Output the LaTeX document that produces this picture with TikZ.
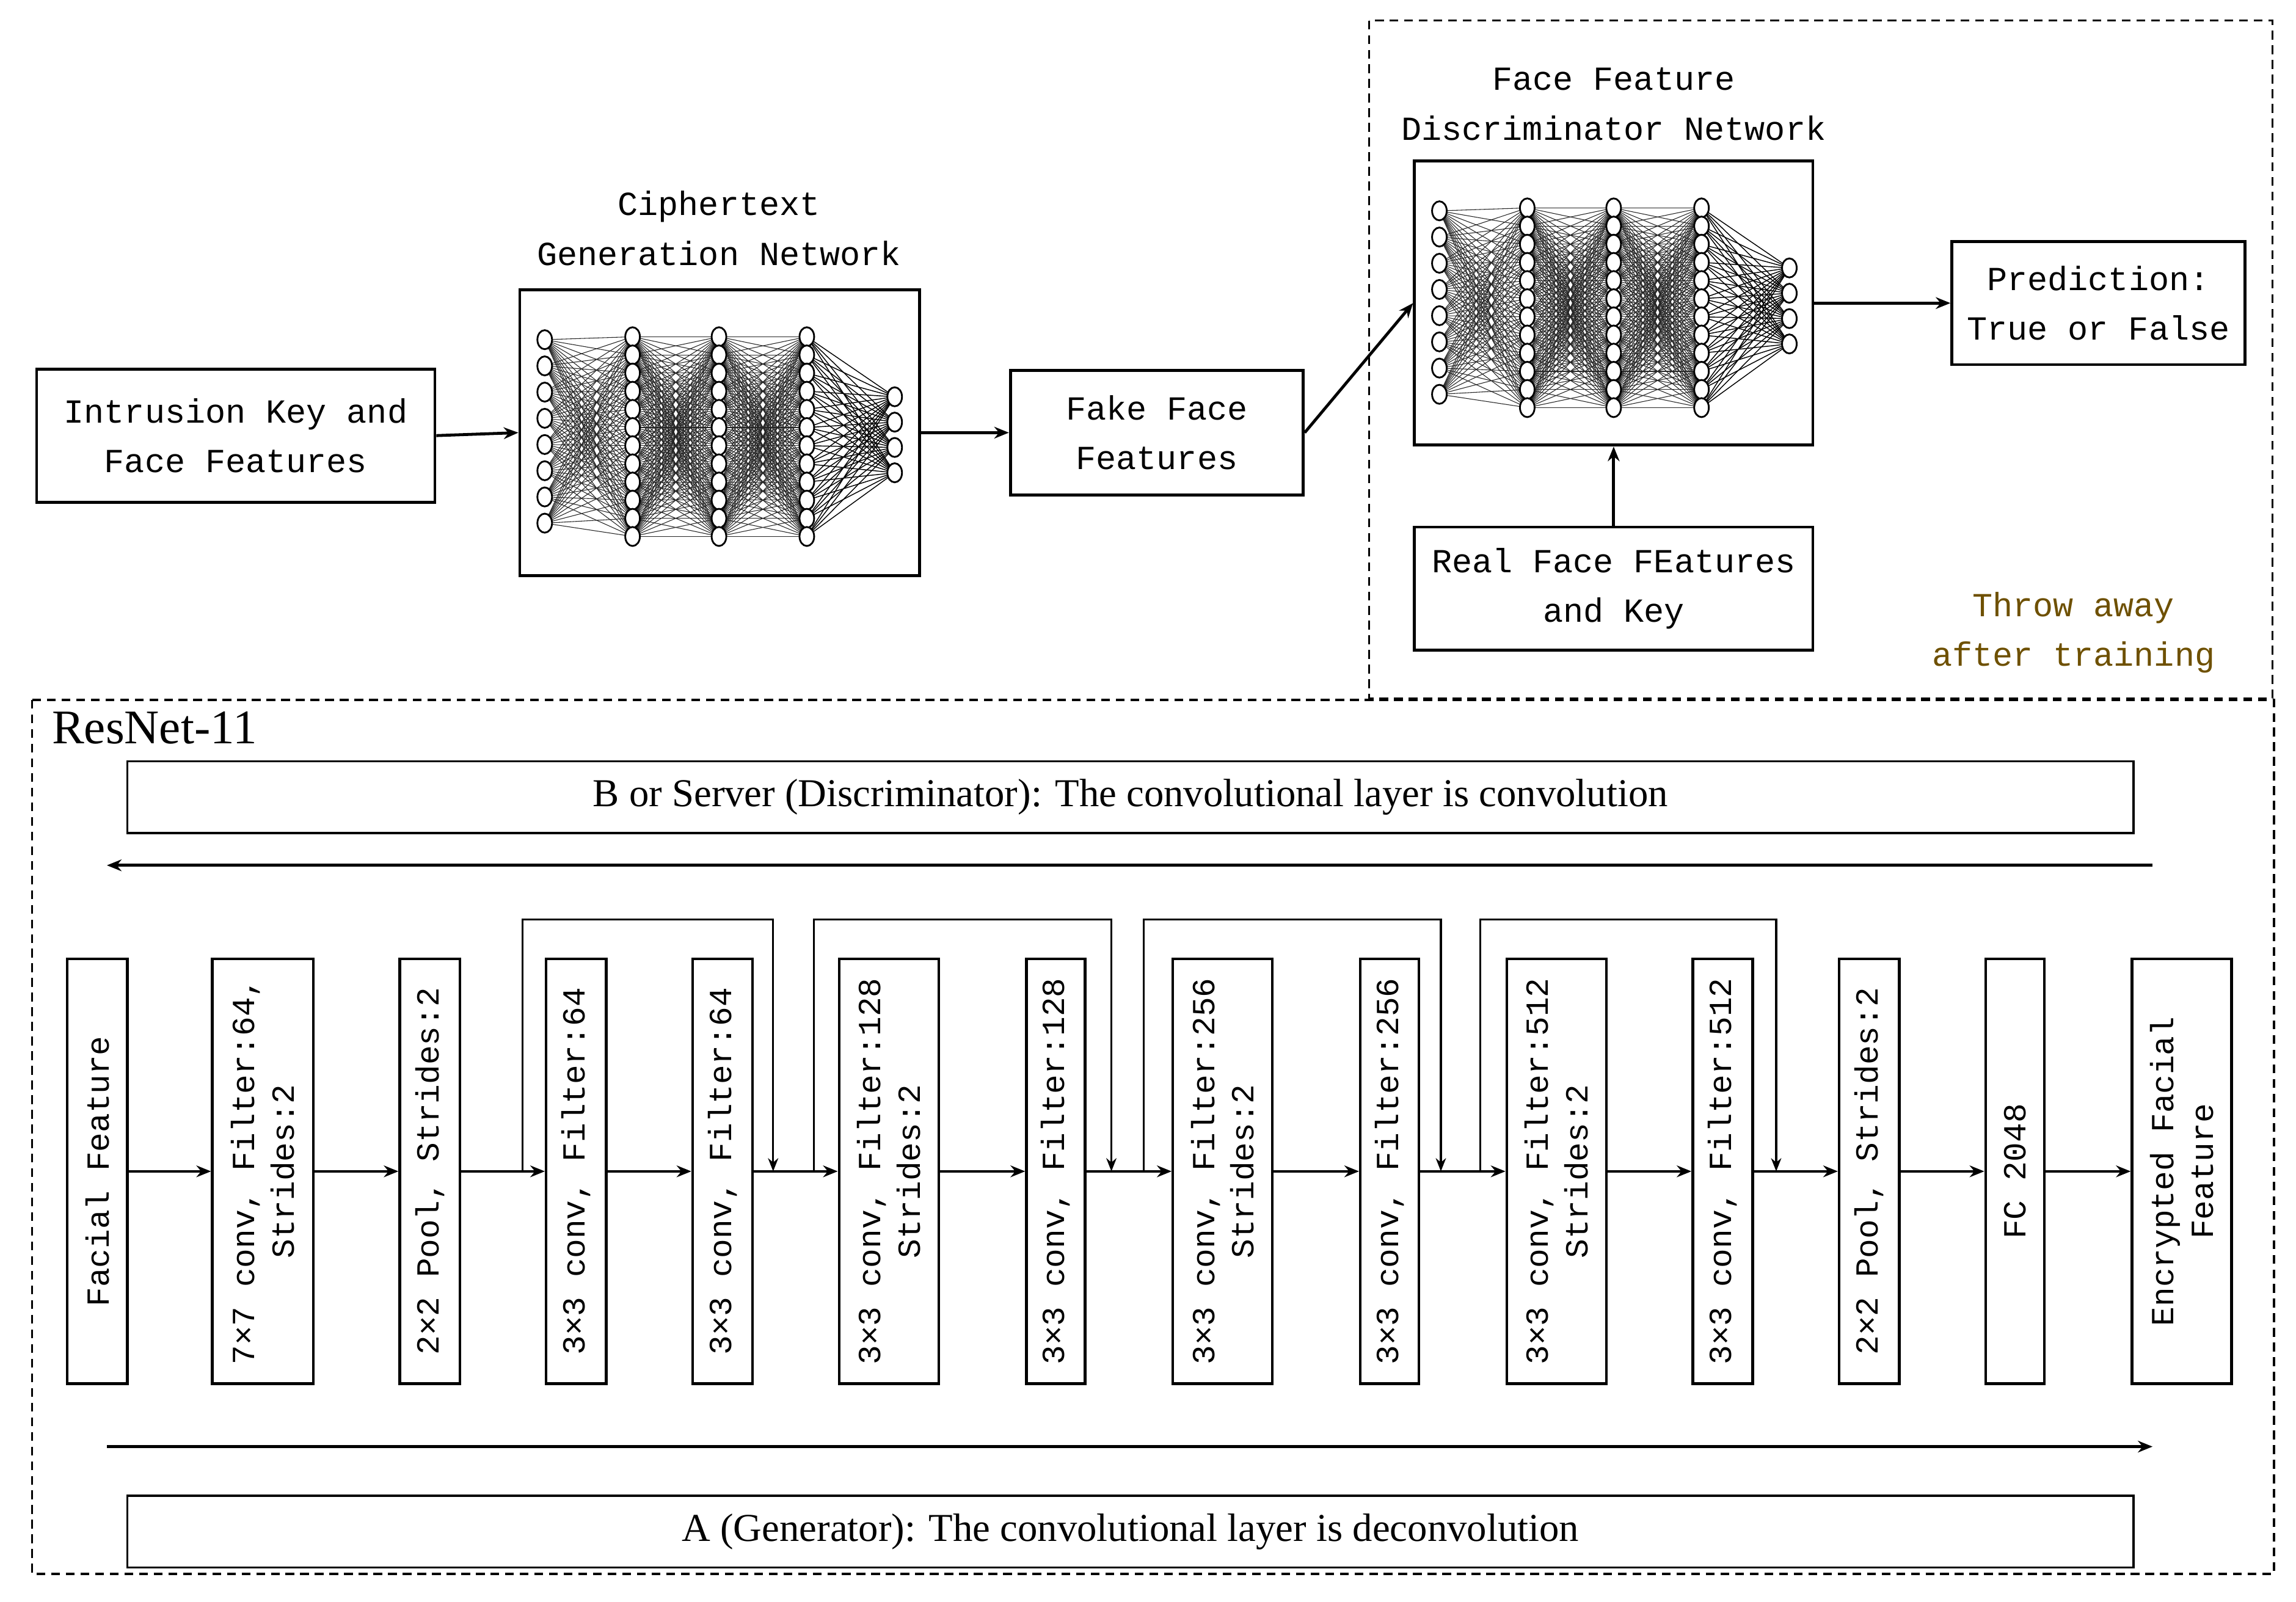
\documentclass[tikz,border=0pt]{standalone}
\usepackage{fontspec}
\setmainfont{Liberation Serif}
\newfontfamily\mono{Liberation Mono}
\usetikzlibrary{arrows.meta}
\newcommand{\nnet}[2]{%
 \begin{scope}[shift={(#1,#2)}]
 \foreach \i in {0,...,7}{\foreach \j in {0,...,11}{\draw[line width=0.45pt,black!85] (0,232+\i*17.9)--(60,230+\j*12.4);}}
 \foreach \a/\b in {60/119,119/179}{\foreach \i in {0,...,11}{\foreach \j in {0,...,11}{\draw[line width=0.45pt,black!85] (\a,230+\i*12.4)--(\b,230+\j*12.4);}}}
 \foreach \i in {0,...,11}{\foreach \j in {0,...,3}{\draw[line width=0.6pt,black] (179,230+\i*12.4)--(239,271+\j*17.3);}}
 \foreach \i in {0,...,7}{\draw[fill=white,line width=1.2pt] (0,232+\i*17.9) ellipse (5 and 6.5);}
 \foreach \x in {60,119,179}{\foreach \i in {0,...,11}{\draw[fill=white,line width=1.2pt] (\x,230+\i*12.4) ellipse (5 and 6.5);}}
 \foreach \i in {0,...,3}{\draw[fill=white,line width=1.2pt] (239,271+\i*17.3) ellipse (5 and 6.5);}
 \end{scope}}
\begin{document}
\begin{tikzpicture}[x=1pt,y=-1pt,
 box/.style={draw,line width=2pt,inner sep=0pt,align=center,font=\mono\fontsize{23}{34}\selectfont},
 lay/.style={draw,line width=1.8pt,rotate=90,inner sep=0pt,minimum width=290pt,align=center,font=\mono\fontsize{22}{27}\selectfont},
 wide/.style={draw,line width=1.4pt,minimum width=1370pt,minimum height=49pt,inner sep=0pt,font=\fontsize{27}{30}\selectfont},
 arr/.style={line width=2pt,-{Stealth[length=10pt,width=8pt]}},
 dsh/.style={line width=1.4pt,dash pattern=on 6pt off 4pt},
 tit/.style={align=center,font=\mono\fontsize{23}{34}\selectfont}]
\useasboundingbox (0,0) rectangle (1568,1094);
\draw[dsh] (935,14) rectangle (1552,477);
\draw[dsh] (22,478) rectangle (1553,1075);
% top row
\node[box,minimum width=272pt,minimum height=91pt] (ik) at (161,297.5) {Intrusion Key and\\Face Features};
\node[box,minimum width=273pt,minimum height=195pt] (cg) at (491.5,295.5) {};
\nnet{372}{0}
\node[tit] (cgt) at (491,156) {Ciphertext\\Generation Network};
\node[box,minimum width=200pt,minimum height=85pt] (ff) at (790,295.5) {Fake Face\\Features};
\node[box,minimum width=272pt,minimum height=194pt] (dn) at (1102,207) {};
\nnet{983}{-88}
\node[tit] (dnt) at (1102,71) {Face Feature\\Discriminator Network};
\node[box,minimum width=200pt,minimum height=84pt] (pr) at (1433,207) {Prediction:\\True or False};
\node[box,minimum width=272pt,minimum height=84pt] (rf) at (1102,402) {Real Face FEatures\\and Key};
\node[tit,text={rgb,255:red,110;green,80;blue,0}] (ta) at (1416,432) {Throw away\\after training};
\draw[arr] (ik.east) -- (cg.west);
\draw[arr] (cg.east) -- (ff.west);
\draw[arr] (ff.east) -- (dn.west);
\draw[arr] (dn.east) -- (pr.west);
\draw[arr] (rf.north) -- (dn.south);
% bottom
\node[font=\fontsize{33}{36}\selectfont,anchor=west] (rn) at (32,497) {ResNet-11};
\node[wide] (bs) at (772,544.5) {B or Server (Discriminator): The convolutional layer is convolution};
\node[wide] (ag) at (772,1046) {A (Generator): The convolutional layer is deconvolution};
\coordinate (t1) at (1470,591); \coordinate (t2) at (73,591);
\coordinate (u1) at (73,988); \coordinate (u2) at (1470,988);
\draw[arr] (t1) -- (t2);
\draw[arr] (u1) -- (u2);
\node[lay,minimum height=41pt] (L1) at (66.5,800) {Facial Feature};
\node[lay,minimum height=69pt] (L2) at (179.5,800) {7×7 conv, Filter:64,\\Strides:2};
\node[lay,minimum height=41pt] (L3) at (293.5,800) {2×2 Pool, Strides:2};
\node[lay,minimum height=41pt] (L4) at (393.5,800) {3×3 conv, Filter:64};
\node[lay,minimum height=41pt] (L5) at (493.5,800) {3×3 conv, Filter:64};
\node[lay,minimum height=68pt] (L6) at (607,800) {3×3 conv, Filter:128\\Strides:2};
\node[lay,minimum height=40pt] (L7) at (721,800) {3×3 conv, Filter:128};
\node[lay,minimum height=68pt] (L8) at (835,800) {3×3 conv, Filter:256\\Strides:2};
\node[lay,minimum height=40pt] (L9) at (949,800) {3×3 conv, Filter:256};
\node[lay,minimum height=68pt] (L10) at (1063,800) {3×3 conv, Filter:512\\Strides:2};
\node[lay,minimum height=41pt] (L11) at (1176.5,800) {3×3 conv, Filter:512};
\node[lay,minimum height=41pt] (L12) at (1276.5,800) {2×2 Pool, Strides:2};
\node[lay,minimum height=40pt] (L13) at (1376,800) {FC 2048};
\node[lay,minimum height=68pt] (L14) at (1490,800) {Encrypted Facial\\Feature};
\foreach \a/\b in {L1/L2,L2/L3,L3/L4,L4/L5,L5/L6,L6/L7,L7/L8,L8/L9,L9/L10,L10/L11,L11/L12,L12/L13,L13/L14}{\draw[arr,line width=1.5pt] (\a) -- (\b);}
\foreach \s/\e in {357/528,556/759,781/984,1011/1213}{
 \coordinate (sa\s) at (\s,800); \coordinate (sb\s) at (\e,800);
 \draw[line width=1.3pt,-{Stealth[length=9pt,width=7pt]}] (sa\s) -- (\s,628) -| (sb\s);}
\end{tikzpicture}
\end{document}
